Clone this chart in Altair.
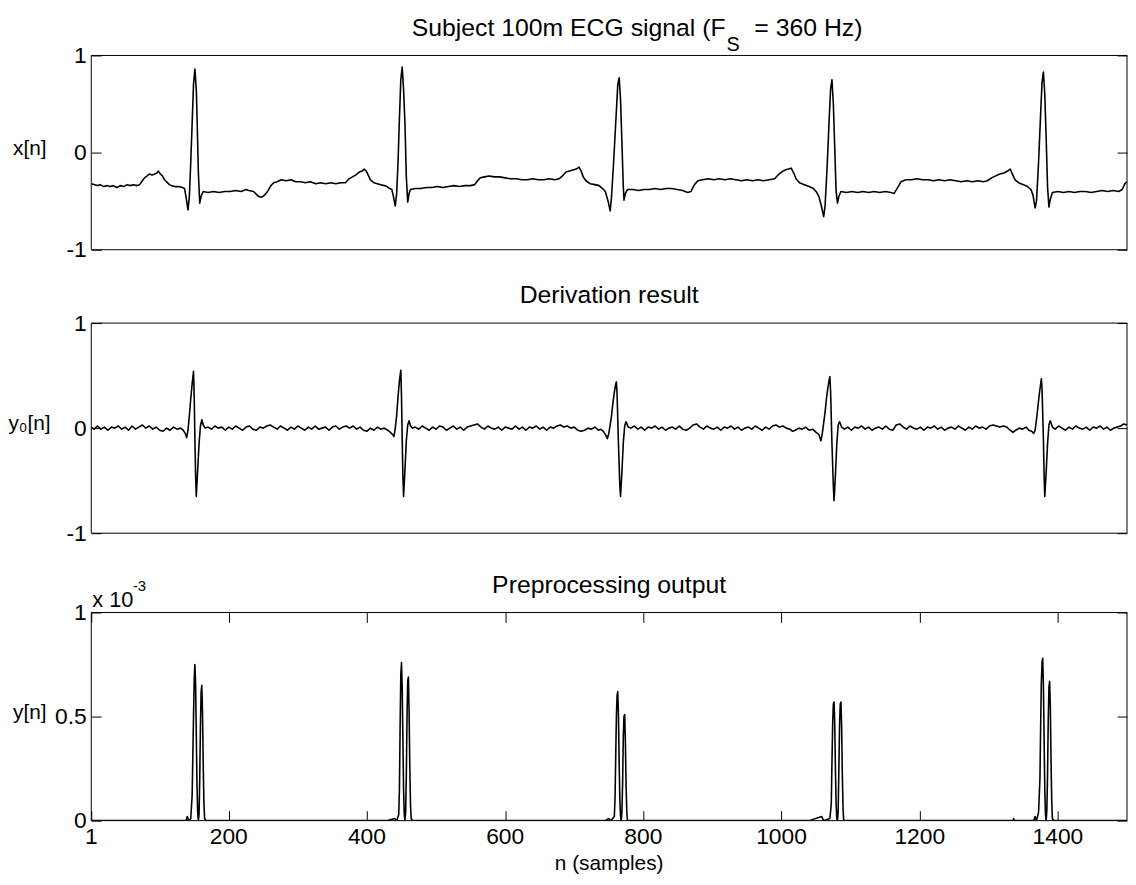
import altair as alt
import pandas as pd

FONT = "Liberation Sans"

# ---------------- data ----------------
x_domain = [1, 1500]
x_ticks = [1, 200, 400, 600, 800, 1000, 1200, 1400]
sig_domain = [-1, 1]
sig_y_ticks = [-1, 0, 1]
pre_domain = [0, 1]
pre_y_ticks = [0, 0.5, 1]

# x[n] : (sample, amplitude)
ecg = [(1,-0.32),(6,-0.33),(10,-0.34),(14,-0.33),(19,-0.35),(24,-0.34),(28,-0.35),(33,-0.34),(38,-0.36),(43,-0.34),
       (48,-0.35),(53,-0.33),(57,-0.34),(62,-0.33),(67,-0.34),(71,-0.33),(75,-0.29),(78,-0.26),(82,-0.24),(85,-0.22),
       (89,-0.23),(93,-0.22),(96,-0.21),(98,-0.19),(101,-0.22),(104,-0.24),(107,-0.28),(110,-0.30),(114,-0.33),(117,-0.34),
       (122,-0.35),(128,-0.35),(133,-0.36),(136,-0.37),(138,-0.45),(141,-0.59),(143,-0.45),(145,-0.10),(147,0.30),(149,0.70),
       (151,0.86),(153,0.65),(154,0.40),(156,-0.20),(158,-0.52),(160,-0.45),(163,-0.40),(170,-0.41),(178,-0.40),(186,-0.41),
       (194,-0.40),(202,-0.40),(210,-0.39),(218,-0.40),(225,-0.38),(229,-0.39),(236,-0.40),(240,-0.43),(243,-0.45),(247,-0.46),
       (250,-0.45),(254,-0.42),(257,-0.39),(261,-0.34),(265,-0.31),(270,-0.30),(276,-0.28),(283,-0.29),(290,-0.28),(297,-0.30),
       (304,-0.30),(311,-0.31),(318,-0.30),(326,-0.32),(333,-0.31),(340,-0.32),(348,-0.31),(355,-0.32),(362,-0.31),(369,-0.31),
       (374,-0.27),(379,-0.25),(384,-0.23),(389,-0.20),(393,-0.19),(396,-0.17),(399,-0.19),(401,-0.22),(405,-0.28),(410,-0.31),
       (415,-0.32),(420,-0.33),(425,-0.34),(429,-0.35),(433,-0.37),(436,-0.38),(438,-0.44),(441,-0.55),(443,-0.42),(445,-0.10),
       (447,0.35),(449,0.75),(451,0.88),(453,0.65),(455,0.30),(457,-0.25),(459,-0.51),(461,-0.42),(463,-0.38),(470,-0.37),
       (478,-0.37),(486,-0.36),(494,-0.36),(502,-0.35),(510,-0.36),(518,-0.35),(526,-0.34),(534,-0.35),(542,-0.34),(550,-0.34),
       (556,-0.33),(560,-0.29),(564,-0.26),(570,-0.25),(577,-0.24),(584,-0.25),(592,-0.25),(600,-0.26),(608,-0.27),(616,-0.27),
       (624,-0.28),(632,-0.28),(640,-0.27),(648,-0.28),(656,-0.28),(664,-0.27),(672,-0.28),(678,-0.27),(683,-0.24),(688,-0.20),
       (693,-0.19),(698,-0.18),(703,-0.17),(707,-0.15),(710,-0.19),(713,-0.25),(717,-0.29),(723,-0.32),(730,-0.33),(736,-0.34),
       (741,-0.37),(745,-0.40),(749,-0.50),(752,-0.60),(754,-0.45),(757,-0.10),(760,0.30),(763,0.70),(765,0.77),(767,0.55),
       (769,0.10),(771,-0.35),(772,-0.49),(774,-0.42),(777,-0.38),(785,-0.38),(793,-0.39),(801,-0.38),(809,-0.38),(817,-0.37),
       (825,-0.38),(833,-0.37),(841,-0.37),(849,-0.38),(857,-0.39),(864,-0.41),(869,-0.40),(874,-0.33),(879,-0.29),(886,-0.28),
       (894,-0.27),(902,-0.28),(910,-0.27),(918,-0.28),(926,-0.27),(934,-0.28),(942,-0.29),(950,-0.28),(958,-0.29),(966,-0.28),
       (974,-0.29),(982,-0.28),(990,-0.27),(995,-0.23),(1000,-0.20),(1005,-0.18),(1010,-0.17),(1014,-0.16),(1017,-0.20),(1021,-0.27),
       (1026,-0.31),(1033,-0.33),(1040,-0.35),(1046,-0.37),(1050,-0.40),(1054,-0.45),(1058,-0.56),(1061,-0.66),(1063,-0.55),(1066,-0.15),
       (1069,0.35),(1071,0.65),(1073,0.75),(1075,0.50),(1077,0.05),(1079,-0.40),(1081,-0.52),(1083,-0.45),(1086,-0.40),(1094,-0.41),
       (1102,-0.40),(1110,-0.41),(1118,-0.40),(1126,-0.41),(1134,-0.40),(1142,-0.41),(1150,-0.40),(1158,-0.41),(1163,-0.42),(1168,-0.36),
       (1173,-0.30),(1180,-0.28),(1188,-0.28),(1196,-0.27),(1204,-0.28),(1212,-0.28),(1220,-0.29),(1228,-0.28),(1236,-0.29),(1244,-0.28),
       (1252,-0.29),(1260,-0.30),(1268,-0.29),(1276,-0.30),(1284,-0.29),(1292,-0.30),(1298,-0.29),(1304,-0.26),(1310,-0.24),(1316,-0.22),
       (1322,-0.21),(1327,-0.19),(1331,-0.17),(1334,-0.22),(1338,-0.28),(1343,-0.31),(1350,-0.33),(1356,-0.35),(1361,-0.38),(1364,-0.44),
       (1367,-0.57),(1369,-0.50),(1372,-0.10),(1375,0.40),(1377,0.72),(1379,0.83),(1381,0.60),(1383,0.15),(1385,-0.35),(1387,-0.56),
       (1389,-0.48),(1392,-0.41),(1400,-0.40),(1408,-0.41),(1416,-0.40),(1424,-0.41),(1432,-0.40),(1440,-0.40),(1448,-0.41),(1456,-0.40),
       (1464,-0.39),(1472,-0.40),(1480,-0.39),(1488,-0.40),(1493,-0.38),(1497,-0.32),(1500,-0.30)]

# y0[n] : derivative
der = [(1,0.01),(5,-0.01),(10,0.02),(15,-0.01),(20,0.01),(25,-0.02),(30,0.01),(35,0.0),(40,0.02),(45,-0.01),
       (50,0.01),(55,-0.02),(60,0.02),(65,-0.01),(70,0.01),(75,0.03),(80,0.0),(85,0.02),(90,-0.01),(95,0.01),
       (100,-0.02),(105,-0.03),(110,0.0),(115,-0.02),(120,0.01),(125,-0.01),(130,0.0),(134,-0.02),(137,-0.05),(139,-0.09),
       (141,-0.02),(143,0.12),(145,0.28),(147,0.42),(149,0.54),(150,0.30),(151,-0.10),(152,-0.45),(153,-0.65),(155,-0.40),
       (157,-0.15),(159,0.02),(161,0.08),(163,0.03),(166,0.0),(170,0.01),(175,-0.01),(180,0.02),(185,0.0),(190,0.01),
       (195,-0.02),(200,0.01),(205,-0.01),(210,0.02),(215,0.0),(220,-0.02),(225,0.01),(230,0.02),(235,-0.01),(240,-0.02),
       (245,0.01),(250,0.0),(255,0.02),(260,0.03),(265,0.01),(270,-0.01),(275,0.02),(280,0.0),(285,-0.02),(290,0.01),
       (295,-0.01),(300,0.02),(305,0.0),(310,-0.02),(315,0.01),(320,-0.01),(325,0.02),(330,-0.01),(335,0.0),(340,0.01),
       (345,-0.02),(350,0.01),(355,0.02),(360,-0.01),(365,0.01),(370,0.02),(375,0.0),(380,0.02),(385,-0.01),(390,0.01),
       (395,-0.02),(400,-0.03),(405,0.0),(410,-0.02),(415,0.01),(420,-0.01),(425,0.0),(430,-0.02),(434,-0.04),(437,-0.06),
       (439,-0.08),(441,0.0),(443,0.12),(445,0.30),(447,0.45),(449,0.55),(450,0.30),(451,-0.10),(452,-0.45),(453,-0.65),
       (455,-0.40),(457,-0.12),(459,0.03),(461,0.07),(463,0.02),(466,0.0),(470,0.01),(475,-0.01),(480,0.02),(485,0.0),
       (490,-0.02),(495,0.01),(500,-0.01),(505,0.02),(510,0.01),(515,-0.02),(520,0.0),(525,0.02),(530,-0.01),(535,0.01),
       (540,-0.02),(545,0.01),(550,0.02),(555,0.03),(560,0.04),(565,0.01),(570,-0.01),(575,0.02),(580,0.0),(585,-0.01),
       (590,0.01),(595,-0.02),(600,0.01),(605,0.0),(610,-0.01),(615,0.02),(620,-0.01),(625,0.01),(630,-0.02),(635,0.01),
       (640,0.0),(645,0.02),(650,-0.01),(655,0.01),(660,-0.02),(665,0.01),(670,0.0),(675,0.02),(680,0.03),(685,0.01),
       (690,0.02),(695,0.0),(700,0.01),(705,-0.02),(710,-0.03),(715,-0.02),(720,0.0),(725,-0.01),(730,0.01),(735,-0.02),
       (738,-0.01),(742,-0.03),(745,-0.06),(748,-0.10),(750,-0.05),(752,0.03),(754,0.12),(756,0.24),(758,0.34),(760,0.42),
       (761,0.44),(762,0.32),(764,-0.15),(766,-0.55),(767,-0.65),(769,-0.42),(771,-0.14),(773,0.02),(775,0.06),(778,0.01),
       (782,0.0),(787,0.02),(792,-0.01),(797,0.01),(802,-0.02),(807,0.01),(812,0.0),(817,0.02),(822,-0.01),(827,0.01),
       (832,-0.02),(837,0.0),(842,0.01),(847,-0.01),(852,0.02),(857,-0.01),(862,-0.02),(867,0.0),(872,0.03),(877,0.04),
       (882,0.01),(887,-0.01),(892,0.02),(897,0.0),(902,-0.01),(907,0.01),(912,-0.02),(917,0.01),(922,0.0),(927,0.02),
       (932,-0.01),(937,0.01),(942,-0.02),(947,0.0),(952,0.01),(957,-0.01),(962,0.02),(967,0.0),(972,-0.02),(977,0.01),
       (982,-0.01),(987,0.02),(992,0.03),(997,0.01),(1002,0.02),(1007,0.0),(1012,-0.01),(1016,-0.03),(1020,-0.02),(1025,0.0),
       (1030,-0.01),(1035,0.01),(1040,-0.02),(1045,-0.01),(1050,-0.04),(1054,-0.06),(1057,-0.12),(1059,-0.05),(1061,0.05),(1063,0.15),
       (1065,0.28),(1067,0.38),(1069,0.46),(1070,0.49),(1071,0.35),(1073,-0.15),(1075,-0.55),(1076,-0.69),(1078,-0.45),(1080,-0.15),
       (1082,0.03),(1084,0.06),(1087,0.01),(1091,-0.01),(1096,0.01),(1101,-0.02),(1106,0.01),(1111,0.0),(1116,0.02),(1121,-0.01),
       (1126,0.01),(1131,-0.02),(1136,0.0),(1141,0.01),(1146,-0.01),(1151,0.02),(1156,-0.01),(1161,-0.02),(1166,0.03),(1171,0.04),
       (1176,0.01),(1181,-0.01),(1186,0.02),(1191,0.0),(1196,-0.01),(1201,0.01),(1206,-0.02),(1211,0.01),(1216,0.0),(1221,0.02),
       (1226,-0.01),(1231,0.01),(1236,-0.02),(1241,0.0),(1246,0.01),(1251,-0.01),(1256,0.02),(1261,0.0),(1266,-0.02),(1271,0.01),
       (1276,-0.01),(1281,0.02),(1286,0.0),(1291,0.01),(1296,-0.01),(1301,0.02),(1306,0.03),(1311,0.02),(1316,0.01),(1321,0.02),
       (1326,0.01),(1331,-0.02),(1335,-0.04),(1339,-0.02),(1344,0.0),(1349,-0.01),(1354,0.01),(1358,-0.02),(1362,-0.03),(1365,-0.05),
       (1367,-0.02),(1369,0.08),(1371,0.20),(1373,0.32),(1375,0.42),(1376,0.47),(1377,0.38),(1379,-0.10),(1380,-0.45),(1381,-0.65),
       (1383,-0.42),(1385,-0.15),(1387,0.03),(1389,0.07),(1392,0.01),(1396,-0.01),(1401,0.02),(1406,0.0),(1411,-0.02),(1416,0.01),
       (1421,-0.01),(1426,0.02),(1431,0.0),(1436,-0.01),(1441,0.01),(1446,-0.02),(1451,0.01),(1456,0.0),(1461,0.02),(1466,-0.01),
       (1471,0.01),(1476,-0.02),(1481,0.0),(1486,0.01),(1491,0.02),(1495,0.04),(1500,0.03)]

# y[n] : preprocessing output, in units of 1e-3
pre = [(1,0),(100,0),(138,0),(140,0.02),(142,0),(145,0.01),(147,0.12),(149,0.5),(150,0.68),(151,0.75),
       (152,0.66),(153,0.42),(154,0.18),(155,0.04),(156,0.0),(157,0.03),(158,0.2),(159,0.45),(160,0.62),(161,0.65),
       (162,0.52),(163,0.28),(164,0.09),(165,0.01),(167,0),(300,0),(430,0),(440,0.01),(443,0),(446,0.03),
       (447,0.15),(448,0.45),(449,0.7),(450,0.76),(451,0.64),(452,0.4),(453,0.15),(454,0.03),(455,0.0),(456,0.04),
       (457,0.22),(458,0.5),(459,0.67),(460,0.69),(461,0.52),(462,0.26),(463,0.08),(464,0.01),(466,0),(600,0),
       (745,0),(750,0.01),(753,0),(758,0.02),(759,0.1),(760,0.3),(761,0.5),(762,0.6),(763,0.62),(764,0.5),
       (765,0.28),(766,0.1),(767,0.02),(768,0.0),(769,0.04),(770,0.18),(771,0.4),(772,0.5),(773,0.51),(774,0.38),
       (775,0.18),(776,0.05),(777,0.0),(900,0),(1040,0),(1058,0.02),(1061,0),(1070,0.01),(1072,0.08),(1073,0.28),
       (1074,0.46),(1075,0.56),(1076,0.57),(1077,0.47),(1078,0.25),(1079,0.08),(1080,0.01),(1081,0.0),(1082,0.05),(1083,0.25),
       (1084,0.46),(1085,0.56),(1086,0.57),(1087,0.45),(1088,0.22),(1089,0.06),(1090,0.0),(1200,0),(1335,0),(1336,0.01),
       (1337,0),(1365,0),(1367,0.02),(1369,0),(1372,0.04),(1374,0.2),(1375,0.45),(1376,0.66),(1377,0.76),(1378,0.78),
       (1379,0.65),(1380,0.4),(1381,0.15),(1382,0.03),(1383,0.0),(1384,0.05),(1385,0.22),(1386,0.48),(1387,0.64),(1388,0.67),
       (1389,0.55),(1390,0.3),(1391,0.1),(1392,0.01),(1394,0),(1500,0)]

# ---------------- layout / style ----------------
W = 1045
H1, H2, H3 = 196, 212, 210
H2_CELL = 218
GAP = 74
TICK = 10
LBL = 23
TTL = 25
YLBL = 21
LW = 1.6

ONE = alt.Data(values=[{"k": 0}])
xscale = alt.Scale(domain=x_domain, nice=False, zero=False)


def txt(text, x, y, size, align="left"):
    return alt.Chart(ONE).mark_text(
        text=text, font=FONT, fontSize=size, align=align,
        baseline="alphabetic", color="black"
    ).encode(x=alt.value(x), y=alt.value(y))


def axis(orient, vals, labels=True, pad=5):
    # inward-pointing ticks: the axis line is pulled into the plot by TICK px
    kw = dict(orient=orient, values=vals, ticks=True, tickSize=TICK, tickColor="black",
              tickWidth=1, offset=-TICK, domain=False, grid=False, title=None, labels=labels,
              labelOverlap=False)
    if labels:
        kw.update(labelFont=FONT, labelFontSize=LBL, labelColor="black", labelPadding=pad,
                  labelFlush=False, labelExpr="'' + datum.value")
    return alt.Axis(**kw)


def box(yscale, ydomain, yvals, xvals=None):
    # frame of the axes, drawn through the scales, carrying the top/right tick marks
    df = pd.DataFrame({"x0": [x_domain[0]], "x1": [x_domain[1]],
                       "y0": [ydomain[0]], "y1": [ydomain[1]]})
    xax = axis("top", xvals, labels=False) if xvals else None
    return alt.Chart(df).mark_rect(fillOpacity=0, stroke="black", strokeWidth=1).encode(
        x=alt.X("x0:Q", scale=xscale, axis=xax), x2="x1",
        y=alt.Y("y0:Q", scale=yscale, axis=axis("right", yvals, labels=False)), y2="y1",
    )


def line(pts, yscale, yvals, xvals=None):
    df = pd.DataFrame(pts, columns=["n", "v"])
    xax = axis("bottom", xvals, labels=False) if xvals else None
    return alt.Chart(df).mark_line(
        color="black", strokeWidth=LW, clip=True, strokeJoin="round"
    ).encode(
        x=alt.X("n:Q", scale=xscale, axis=xax),
        y=alt.Y("v:Q", scale=yscale, axis=axis("left", yvals)),
    )


def xlabels(vals, h):
    df = pd.DataFrame({"t": vals, "lab": [str(v) for v in vals]})
    return alt.Chart(df).mark_text(
        font=FONT, fontSize=LBL, align="center", baseline="top", color="black"
    ).encode(x=alt.X("t:Q", scale=xscale, axis=None), y=alt.value(h + 6), text="lab:N")


# ---- panel 1 ----
ys1 = alt.Scale(domain=sig_domain, nice=False, zero=False)
spacer = alt.Chart(ONE).mark_rule(color="white", strokeWidth=1).encode(
    x=alt.value(-83), y=alt.value(-43), y2=alt.value(-42))
p1 = alt.layer(
    line(ecg, ys1, sig_y_ticks),
    box(ys1, sig_domain, sig_y_ticks),
    spacer,
    txt("Subject 100m ECG signal (F", 640, -20, TTL, "right"),
    txt("S", 641, -5, 20),
    txt("= 360 Hz)", 669, -20, TTL),
    txt("x[n]", -45, H1 / 2 + 2, YLBL, "right"),
).resolve_axis(x="independent", y="independent").properties(width=W, height=H1)

# ---- panel 2 ----
ys2 = alt.Scale(domain=sig_domain, nice=False, zero=False, range=[H2, 0])
p2 = alt.layer(
    line(der, ys2, sig_y_ticks),
    box(ys2, sig_domain, sig_y_ticks),
    txt("Derivation result", W / 2, -20, TTL, "center"),
    txt("y\u2080[n]", -41, H2 / 2 + 2, YLBL, "right"),
).resolve_axis(x="independent", y="independent").properties(width=W, height=H2_CELL)

# ---- panel 3 ----
ys3 = alt.Scale(domain=pre_domain, nice=False, zero=False)
p3 = alt.layer(
    line(pre, ys3, pre_y_ticks, x_ticks),
    box(ys3, pre_domain, pre_y_ticks, x_ticks),
    xlabels(x_ticks, H3),
    txt("Preprocessing output", W / 2, -20, TTL, "center"),
    txt("x 10", 1, -6, 22),
    txt("-3", 42, -22, 15),
    txt("y[n]", -45, H3 / 2 + 2, YLBL, "right"),
    txt("n (samples)", W / 2, 260, YLBL, "center"),
).resolve_axis(x="independent", y="independent").properties(width=W, height=H3)

chart = alt.vconcat(p1, p2, p3, spacing=GAP, bounds="flush").properties(
    padding={"left": 0, "top": 0, "right": 0, "bottom": 0}
).configure_view(stroke=None)

chart.save("out.html", embed_options={"renderer": "svg", "actions": False})
